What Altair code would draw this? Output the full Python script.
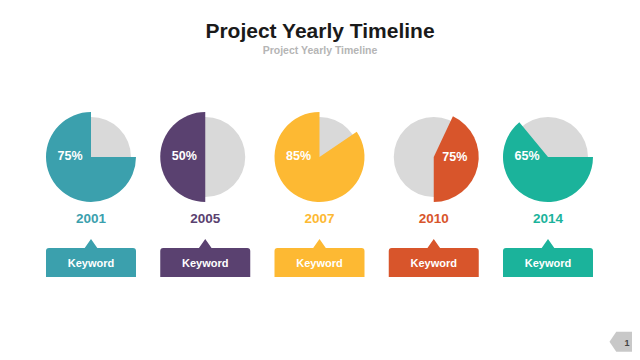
import altair as alt
import pandas as pd

# ---- data ----
years = ["2001", "2005", "2007", "2010", "2014"]
pct_labels = ["75%", "50%", "85%", "75%", "65%"]
wedge_start = [0.25, 0.50, 0.155, 0.07, 0.25]   # fraction of a turn, clockwise from 12 o'clock
wedge_end = [1.00, 1.00, 1.00, 0.50, 0.89]
keywords = ["Keyword", "Keyword", "Keyword", "Keyword", "Keyword"]
colors = ["#3BA0AD", "#5A4170", "#FDB933", "#D8552B", "#1BB39B"]
title_text = ["Project Yearly Timeline"]
subtitle_text = ["Project Yearly Timeline"]
page_number = ["1"]

FONT = "Liberation Sans"
TAU = 6.283185307

df = pd.DataFrame({"year": years, "pct": pct_labels, "start": wedge_start,
                   "end": wedge_end, "keyword": keywords})
base = alt.Chart(df)

X = alt.X("year:N", scale=alt.Scale(type="point", domain=years, range=[83, 540], padding=0),
          axis=None)
C = alt.Color("year:N", scale=alt.Scale(domain=years, range=colors), legend=None)

gray = base.mark_arc(radius=40, theta=0, theta2=TAU, color="#D9D9D9").encode(
    x=X, y=alt.value(149))

colored = base.mark_arc(radius=45).encode(
    x=X, y=alt.value(149),
    theta=alt.Theta("start:Q", scale=alt.Scale(domain=[0, 1], range=[0, TAU]), stack=None),
    theta2="end:Q",
    color=C)

pct_base = base.transform_calculate(mid="(datum.start + datum.end) / 2")
pct_left = pct_base.transform_filter("datum.mid > 0.5").mark_text(
    dx=-21, font=FONT, fontWeight="bold", fontSize=12.5, color="white").encode(
    x=X, y=alt.value(148), text="pct:N")
pct_right = pct_base.transform_filter("datum.mid <= 0.5").mark_text(
    dx=21, font=FONT, fontWeight="bold", fontSize=12.5, color="white").encode(
    x=X, y=alt.value(149), text="pct:N")

year_text = base.mark_text(font=FONT, fontWeight="bold", fontSize=13.5).encode(
    x=X, y=alt.value(210.5), text="year:N", color=C)

# callout box (rounded-top rectangle with a small pointer), drawn as one symbol
BOX_PATH = ("M-1,0.644L-1,0.067Q-1,0 -0.933,0L-0.14,0L0,-0.2L0.14,0"
            "L0.933,0Q1,0 1,0.067L1,0.644Z")
box = base.mark_point(shape=BOX_PATH, size=8100, filled=True, opacity=1,
                      strokeWidth=0).encode(
    x=X, y=alt.value(240), color=C)

kw_text = base.mark_text(font=FONT, fontWeight="bold", fontSize=11, color="white").encode(
    x=X, y=alt.value(255.5), text="keyword:N")

tdf = pd.DataFrame({"title": title_text, "subtitle": subtitle_text, "page": page_number})
tbase = alt.Chart(tdf)
title = tbase.mark_text(font=FONT, fontWeight="bold", fontSize=21, color="#1A1A1A",
                        baseline="alphabetic").encode(
    x=alt.value(312), y=alt.value(30), text="title:N")
subtitle = tbase.mark_text(font=FONT, fontWeight="bold", fontSize=10.5, color="#B5B5B5").encode(
    x=alt.value(312), y=alt.value(43), text="subtitle:N")
badge = tbase.mark_point(shape="M-1.3,0L-0.85,-0.67L1.3,-0.67L1.3,0.67L-0.85,0.67Z",
                         size=900, filled=True, opacity=1, strokeWidth=0,
                         color="#C8C8C8").encode(
    x=alt.value(621), y=alt.value(333.7))
page = tbase.mark_text(font=FONT, fontWeight="bold", fontSize=9, color="#444444").encode(
    x=alt.value(619), y=alt.value(334.5), text="page:N")

chart = alt.layer(
    gray, colored, pct_left, pct_right, year_text, box, kw_text,
    title, subtitle, badge, page
).properties(
    width=624, height=344,
    autosize=alt.AutoSizeParams(type="none"),
    padding=0,
    background="white",
).configure_view(stroke=None)

chart.save("out.html", embed_options={"renderer": "svg", "actions": False})
